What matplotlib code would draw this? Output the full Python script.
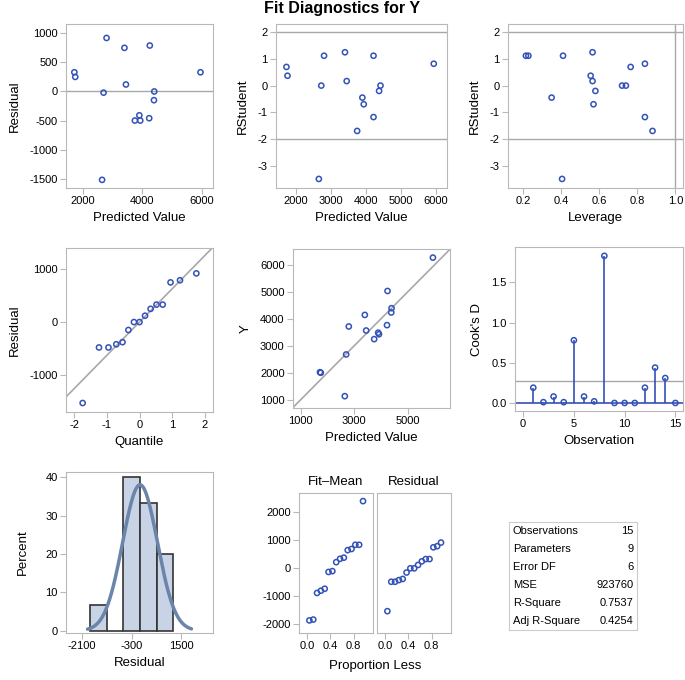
import numpy as np
import matplotlib
matplotlib.use('Agg')
import matplotlib.pyplot as plt

plt.rcParams['font.family'] = ['Liberation Sans', 'DejaVu Sans']
plt.rcParams['axes.unicode_minus'] = False

# values
pred = [1720, 1750, 2800, 2700, 3400, 3450, 4250, 4400, 4390, 3900, 3750, 3930, 4230, 2650, 5950]
resid = [330, 250, 920, -20, 750, 120, 790, 0, -150, -410, -500, -500, -460, -1520, 330]
rstud = [0.70, 0.37, 1.12, 0.0, 1.25, 0.17, 1.12, 0.0, -0.20, -0.45, -0.70, -1.18, -1.70, -3.50, 0.82]
rstud_pred = [1720, 1750, 2800, 2720, 3400, 3450, 4220, 4420, 4380, 3900, 3940, 4220, 3750, 2650, 5950]
lev = [0.215, 0.228, 0.41, 0.35, 0.565, 0.555, 0.565, 0.58, 0.57, 0.72, 0.74, 0.765, 0.84, 0.84, 0.88, 0.405]
lev_rstud = [1.12, 1.12, 1.12, -0.45, 1.25, 0.37, 0.17, -0.20, -0.70, 0.0, 0.0, 0.70, 0.82, -1.18, -1.70, -3.50]
quantile = [-1.74, -1.24, -0.95, -0.71, -0.52, -0.34, -0.17, 0.0, 0.17, 0.34, 0.52, 0.71, 0.95, 1.24, 1.74]
qq_resid = [-1530, -480, -480, -420, -380, -150, 0, 0, 120, 250, 330, 330, 750, 790, 920]
obs_y = [2020, 2000, 3720, 2680, 4150, 3570, 5040, 4400, 4240, 3490, 3250, 3430, 3770, 1130, 6280]
cooks_obs = list(range(1, 16))
cooks_d = [0.19, 0.01, 0.08, 0.01, 0.78, 0.08, 0.02, 1.83, 0.0, 0.0, 0.0, 0.19, 0.44, 0.31, 0.0]
hist_edges = [-1800, -1200, -600, 0, 600, 1200]
hist_pct = [6.67, 0.0, 40.0, 33.33, 20.0]
resid_mean, resid_sd = 0.0, 629.0
prop_less = [0.041, 0.107, 0.172, 0.238, 0.303, 0.369, 0.434, 0.5, 0.566, 0.631, 0.697, 0.762, 0.828, 0.893, 0.959]
fit_mean = [-1860, -1830, -880, -800, -730, -130, -100, 220, 340, 380, 650, 690, 840, 840, 2400]
spread_resid = [-1530, -480, -480, -420, -380, -150, 0, 0, 120, 250, 330, 330, 750, 790, 920]
stat_names = ['Observations', 'Parameters', 'Error DF', 'MSE', 'R-Square', 'Adj R-Square']
stat_values = ['15', '9', '6', '923760', '0.7537', '0.4254']

W, H = 685, 680
fig = plt.figure(figsize=(W / 100, H / 100), dpi=100)

blue = '#3352b8'
ref = '#a8a8a8'
frame = '#b8b8b8'
tfs = 8
lfs = 9.5


def box(l, t, r, b):
    ax = fig.add_axes([l / W, 1 - b / H, (r - l) / W, (b - t) / H])
    for s in ax.spines.values():
        s.set_color(frame)
    ax.tick_params(labelsize=tfs, color=frame, length=4, pad=2)
    return ax


def dots(ax, x, y):
    ax.scatter(x, y, s=14, facecolors='none', edgecolors=blue, linewidths=1.1, zorder=3)


fig.text(0.5, 1 - 9 / H, 'Fit Diagnostics for Y', ha='center', va='center',
         fontsize=11.5, fontweight='bold')

# residual vs predicted
ax = box(66, 24, 213, 188)
dots(ax, pred, resid)
ax.axhline(0, color=ref, lw=1)
ax.set_xlim(1440, 6370)
ax.set_ylim(-1660, 1160)
ax.set_xticks([2000, 4000, 6000])
ax.set_yticks([-1500, -1000, -500, 0, 500, 1000])
ax.set_xlabel('Predicted Value', fontsize=lfs)
ax.set_ylabel('Residual', fontsize=lfs, labelpad=6)

# rstudent vs predicted
ax = box(276, 24, 447, 188)
dots(ax, rstud_pred, rstud)
ax.axhline(2, color=ref, lw=1)
ax.axhline(-2, color=ref, lw=1)
ax.set_xlim(1420, 6330)
ax.set_ylim(-3.84, 2.31)
ax.set_xticks([2000, 3000, 4000, 5000, 6000])
ax.set_yticks([-3, -2, -1, 0, 1, 2])
ax.set_xlabel('Predicted Value', fontsize=lfs)
ax.set_ylabel('RStudent', fontsize=lfs, labelpad=6)

# rstudent vs leverage
ax = box(508, 24, 683, 188)
dots(ax, lev, lev_rstud)
ax.axhline(2, color=ref, lw=1)
ax.axhline(-2, color=ref, lw=1)
ax.axvline(1.0, color=ref, lw=1)
ax.set_xlim(0.121, 1.04)
ax.set_ylim(-3.84, 2.31)
ax.set_xticks([0.2, 0.4, 0.6, 0.8, 1.0])
ax.set_yticks([-3, -2, -1, 0, 1, 2])
ax.set_xlabel('Leverage', fontsize=lfs)
ax.set_ylabel('RStudent', fontsize=lfs, labelpad=6)

# normal quantile plot
ax = box(66, 248, 213, 412)
ax.axline((0, resid_mean), slope=resid_sd, color=ref, lw=1.2)
dots(ax, quantile, qq_resid)
ax.set_xlim(-2.25, 2.25)
ax.set_ylim(-1700, 1400)
ax.set_xticks([-2, -1, 0, 1, 2])
ax.set_yticks([-1000, 0, 1000])
ax.set_xlabel('Quantile', fontsize=lfs)
ax.set_ylabel('Residual', fontsize=lfs, labelpad=6)

# observed vs predicted
ax = box(293, 249, 450, 408)
ax.axline((1000, 1000), slope=1, color=ref, lw=1.2)
dots(ax, pred, obs_y)
ax.set_xlim(710, 6590)
ax.set_ylim(690, 6600)
ax.set_xticks([1000, 3000, 5000])
ax.set_yticks([1000, 2000, 3000, 4000, 5000, 6000])
ax.set_xlabel('Predicted Value', fontsize=lfs)
ax.set_ylabel('Y', fontsize=lfs, labelpad=6)

# cook's D
ax = box(515, 247, 683, 411)
ax.axhline(0, color=blue, lw=1.2, zorder=2)
ax.axhline(0.267, color=ref, lw=1)
ax.vlines(cooks_obs, 0, cooks_d, color=blue, lw=1.2, zorder=2)
dots(ax, cooks_obs, cooks_d)
ax.set_xlim(-0.8, 15.75)
ax.set_ylim(-0.1, 1.94)
ax.set_xticks([0, 5, 10, 15])
ax.set_yticks([0.0, 0.5, 1.0, 1.5])
ax.set_yticklabels(['0.0', '0.5', '1.0', '1.5'])
ax.set_xlabel('Observation', fontsize=lfs)
ax.set_ylabel("Cook's D", fontsize=lfs, labelpad=6)

# residual histogram
ax = box(66, 472, 213, 633)
ax.bar(hist_edges[:-1], hist_pct, width=np.diff(hist_edges), align='edge',
       color='#c8d4e6', edgecolor='#333333', lw=1.2, zorder=2)
xs = np.linspace(-1900, 1860, 200)
dens = 100 * 600 * np.exp(-0.5 * ((xs - resid_mean) / resid_sd) ** 2) / (resid_sd * np.sqrt(2 * np.pi))
ax.plot(xs, dens, color='#6a84aa', lw=2.5, zorder=3, solid_capstyle='round')
ax.set_xlim(-2680, 2640)
ax.set_ylim(-0.6, 41.4)
ax.set_xticks([-2100, -300, 1500])
ax.set_yticks([0, 10, 20, 30, 40])
ax.set_xlabel('Residual', fontsize=lfs)
ax.set_ylabel('Percent', fontsize=lfs, labelpad=12)

# residual-fit spread plot
ax1 = box(299, 493, 373, 633)
ax2 = box(377, 493, 451, 633)
dots(ax1, prop_less, fit_mean)
dots(ax2, prop_less, spread_resid)
for a, ttl in ((ax1, 'Fit\u2013Mean'), (ax2, 'Residual')):
    a.set_xlim(-0.137, 1.13)
    a.set_ylim(-2310, 2690)
    a.set_xticks([0.0, 0.4, 0.8])
    a.set_xticklabels(['0.0', '0.4', '0.8'])
    a.set_yticks([-2000, -1000, 0, 1000, 2000])
    a.set_title(ttl, fontsize=lfs, pad=6)
ax2.tick_params(axis='y', left=False, labelleft=False)
fig.text(375 / W, 1 - 666 / H, 'Proportion Less', ha='center', va='center', fontsize=lfs)

# fit statistics table
tab = fig.add_axes([509 / W, 1 - 630 / H, (637 - 509) / W, (630 - 522) / H])
tab.set_xticks([])
tab.set_yticks([])
for s in tab.spines.values():
    s.set_color('#cccccc')
for i, (n, v) in enumerate(zip(stat_names, stat_values)):
    yy = 1 - (i + 0.5) / len(stat_names)
    tab.text(0.03, yy, n, fontsize=8, va='center', ha='left', transform=tab.transAxes)
    tab.text(0.97, yy, v, fontsize=8, va='center', ha='right', transform=tab.transAxes)

fig.savefig('out.png', dpi=100)
